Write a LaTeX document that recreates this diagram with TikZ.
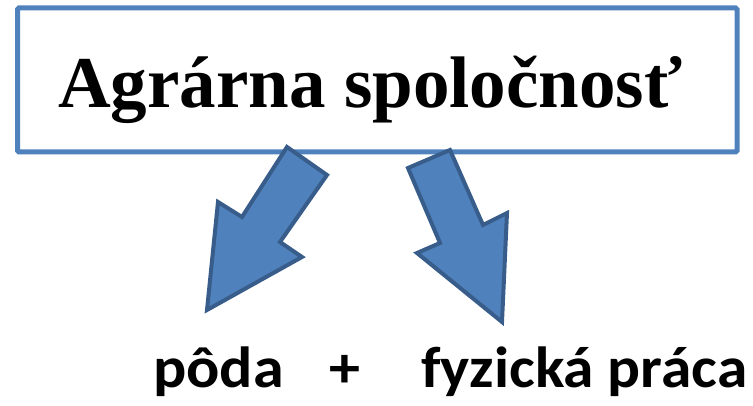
\documentclass[tikz,border=0pt]{standalone}
\usepackage{fontspec}
\usepackage{graphicx}
\setmainfont{Liberation Serif}
\newfontfamily\calibri{Carlito}
\definecolor{boxblue}{RGB}{79,129,189}
\definecolor{arrowedge}{RGB}{56,93,138}
\tikzset{
  titlebox/.style={draw=boxblue, line width=5pt, rounded corners=1.5pt},
  blockarrow/.style={fill=boxblue, draw=arrowedge, line width=4pt, line join=miter},
  titletext/.style={anchor=base west, inner sep=0pt, font=\fontsize{73}{80}\selectfont\bfseries},
  lowtext/.style={anchor=base west, inner sep=0pt, font=\fontsize{58}{62}\selectfont\calibri\bfseries},
}
\begin{document}
\begin{tikzpicture}[x=1pt,y=-1pt]
\useasboundingbox (0,0) rectangle (753,406);
\draw[titlebox] (17.5,8) rectangle (737,152);
\node[titletext] (title) at (58,108) {Agrárna spoločnosť};
% left block arrow
\draw[blockarrow] (287,147) -- (327,175) -- (280,242) -- (302,257) -- (207,310) -- (218,202) -- (242,217) -- cycle;
% right block arrow
\draw[blockarrow] (408,168) -- (450,150) -- (483,225) -- (507,213) -- (502,322) -- (417,253) -- (440,243) -- cycle;
\node[lowtext] (soil) at (153,387) {\scalebox{1.07}[1]{pôda}};
\node[lowtext] (plus) at (329,387) {\scalebox{1.07}[1]{+}};
\node[lowtext] (work) at (421,387) {\scalebox{1.06}[1]{fyzická práca}};
\end{tikzpicture}
\end{document}
